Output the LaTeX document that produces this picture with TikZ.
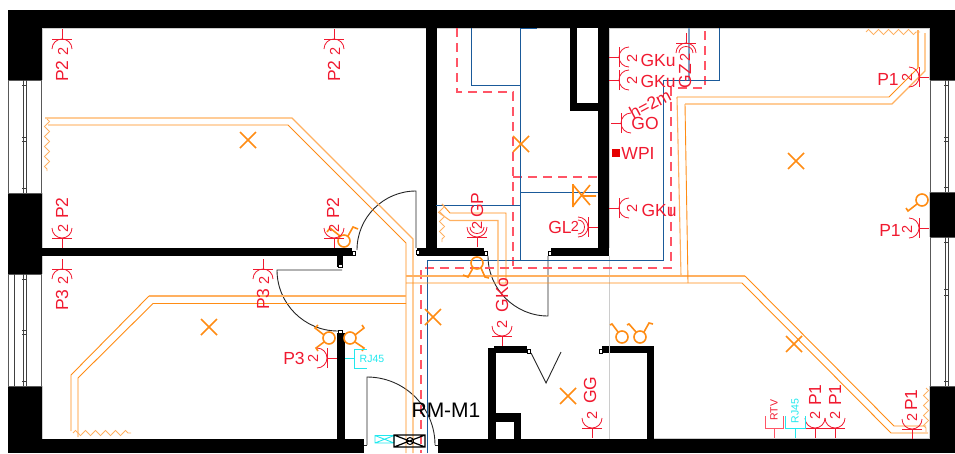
\documentclass[tikz,border=0pt]{standalone}
\usepackage{fontspec}
\setmainfont{Liberation Sans}
\usetikzlibrary{decorations.pathmorphing}
\definecolor{rd}{HTML}{F01A30}
\definecolor{rdl}{HTML}{FF5566}
\definecolor{og}{HTML}{FF8C14}
\definecolor{ogl}{HTML}{FFB060}
\definecolor{bl}{HTML}{1A5A9A}
\definecolor{bll}{HTML}{7FA3C7}
\definecolor{cy}{HTML}{22E8EE}
\tikzset{
 wall/.style={fill=black,draw=none},
 edge/.style={draw=black!20,line width=0.8pt},
 glass/.style={draw=black!65,line width=0.7pt,fill=white},
 pane/.style={draw=black!75,line width=1pt},
 door/.style={draw=black!85,line width=0.9pt},
 doorend/.style={draw=black,fill=white,line width=0.5pt},
 cable/.style={draw=og,line width=0.9pt},
 cablel/.style={draw=ogl,line width=1.1pt},
 zz/.style={draw=ogl,line width=0.8pt,decorate,decoration={zigzag,amplitude=2.6,segment length=10}},
 wire/.style={draw=bl,line width=0.9pt},
 pipe/.style={draw=rdl,line width=1.1pt,dash pattern=on 9pt off 6pt},
 sym/.style={draw=rd,line width=0.8pt},
 lamp/.style={draw=og,line width=1.6pt},
 lab/.style={text=rd,font=\fontsize{17.5}{17.5}\selectfont,inner sep=0pt},
 num/.style={text=rd,font=\fontsize{14.5}{14.5}\selectfont,inner sep=0pt},
 tiny/.style={font=\fontsize{10.5}{10.5}\selectfont,inner sep=0pt},
}
\newcommand{\sockA}[3]{\begin{scope}[shift={(#1,#2)},rotate=#3]
 \draw[sym] (0,0)--(0,10) (-10,10)--(10,10);
 \draw[sym] (-10,20) .. controls (-10,14.5) and (-5.5,10) .. (0,10) .. controls (5.5,10) and (10,14.5) .. (10,20);
 \end{scope}}
\newcommand{\sockB}[3]{\sockA{#1}{#2}{#3}\begin{scope}[shift={(#1,#2)},rotate=#3]
 \draw[sym] (-7,20) .. controls (-7,16.1) and (-3.9,13.5) .. (0,13.5) .. controls (3.9,13.5) and (7,16.1) .. (7,20);
 \end{scope}}
\newcommand{\lampX}[2]{\draw[lamp] (#1-8,#2-8)--(#1+8,#2+8) (#1-8,#2+8)--(#1+8,#2-8);}
\newcommand{\swc}[2]{\draw[lamp] (#1,#2) circle[radius=6];}
\newcommand{\hnd}[6]{\draw[lamp] (#1,#2)--(#3,#4)--(#5,#6);}
\begin{document}
\begin{tikzpicture}[x=1pt,y=-1pt]
\useasboundingbox (0,0) rectangle (955,453);
% outer walls
\fill[wall] (8,10) rectangle (955,28);
\fill[wall] (8,10) rectangle (42,80);
\fill[wall] (8,193) rectangle (42,274);
\fill[wall] (8,386) rectangle (42,453);
\fill[wall] (8,439) rectangle (364,453);
\fill[wall] (438,439) rectangle (955,453);
\fill[wall] (930,10) rectangle (955,80);
\fill[wall] (930,192) rectangle (955,237);
\fill[wall] (930,386) rectangle (955,453);
% inner walls
\fill[wall] (42,248) rectangle (352,256);
\fill[wall] (337,256) rectangle (343,267);
\fill[wall] (426,28) rectangle (437,256);
\fill[wall] (417,248) rectangle (484,256);
\fill[wall] (598,28) rectangle (609,256);
\fill[wall] (551,248) rectangle (609,256);
\fill[wall] (570,28) rectangle (577,111);
\fill[wall] (570,103) rectangle (600,111);
\fill[wall] (337,333) rectangle (345,439);
\fill[wall] (488,348) rectangle (496,439);
\fill[wall] (494,346) rectangle (527,353);
\fill[wall] (602,346) rectangle (654,353);
\fill[wall] (647,346) rectangle (654,439);
\fill[wall] (496,413) rectangle (521,422);
\fill[wall] (514,413) rectangle (521,439);
% grey wall edges
\draw[edge] (42,28)--(42,80) (42,193)--(42,248) (42,256)--(42,274) (42,386)--(42,439);
\draw[edge] (42,28.5)--(426,28.5) (437,28.5)--(570,28.5) (609,28.5)--(929.5,28.5)--(929.5,80);
\draw[edge] (929.5,192)--(929.5,237) (929.5,386)--(929.5,439) (654,438.5)--(929,438.5);
\draw[edge] (609.5,256)--(609.5,439);
\draw[edge] (609.5,28)--(609.5,248);
% windows
\draw[glass] (8,80) rectangle (41,193);
\draw[pane] (23,80)--(23,193) (26,80)--(26,193);
\draw[pane] (22,85)--(27,85) (22,137)--(27,137) (22,141)--(27,141) (22,188)--(27,188);
\draw[glass] (8,274) rectangle (41,386);
\draw[pane] (14,274)--(14,386) (23,274)--(23,386) (26,274)--(26,386);
\draw[pane] (22,330)--(27,330) (22,334)--(27,334) (22,381)--(27,381) (22,279)--(27,279);
\draw[glass] (930,80) rectangle (956,192);
\draw[pane] (945,80)--(945,192) (948,80)--(948,192);
\draw[pane] (944,85)--(949,85) (944,137)--(949,137) (944,141)--(949,141) (944,187)--(949,187);
\draw[glass] (930,237) rectangle (956,386);
\draw[pane] (945,237)--(945,386) (948,237)--(948,386);
\draw[pane] (944,242)--(949,242) (944,289)--(949,289) (944,295)--(949,295) (944,381)--(949,381);
% door arcs
\draw[door] (416,248)--(416,191) .. controls (383.4,191) and (357,217.4) .. (357,250);
\draw[door] (342,270)--(277,270) .. controls (277,303.7) and (304.3,331) .. (338,331);
\draw[door] (367,445)--(367,377) .. controls (404.6,377) and (435,407.4) .. (435,445);
\draw[door] (488,256) .. controls (488,289) and (515,316) .. (548,316)--(548,256);
\draw[door] (531,353)--(546,383)--(561,352);
\draw[door] (364,445)--(367,445) (435,445)--(438,445);
\draw[doorend] (352,251) rectangle (355,255);
\draw[doorend] (338,264) rectangle (342,267);
\draw[doorend] (416,250) rectangle (419,254);
\draw[doorend] (484,251) rectangle (487,255);
\draw[doorend] (548,251) rectangle (551,255);
\draw[doorend] (527,349) rectangle (530,353);
\draw[doorend] (599,349) rectangle (602,353);
\draw[doorend] (338,330) rectangle (342,333);
% red dashed pipes
\draw[pipe] (457,28)--(457,92)--(513,92)--(513,268)--(421,268)--(421,453);
\draw[pipe] (513,177)--(598,177);
\draw[pipe] (513,268)--(671,268)--(671,88)--(705,88)--(705,28);
% blue wires
\draw[wire] (471,28)--(471,85)--(520,85);
\draw[wire] (537,28)--(520,28)--(520,260);
\draw[draw=bll,line width=1pt] (436,205)--(520,205);
\draw[wire] (436,205.5)--(520,205.5);
\draw[wire] (520,192)--(598,192);
\draw[wire] (427,453)--(427,260)--(663,260)--(663,80)--(719,80)--(719,28);
\draw[draw=bll,line width=1.6pt] (689,28)--(689,80);
% orange cables
\draw[cablel] (45,118)--(292,118)--(413,239)--(413,453);
\draw[cable] (48,125)--(288,125)--(406,243)--(406,453);
\draw[cable] (71,431)--(71,375)--(149,296);
\draw[cablel] (149,296)--(406,296);
\draw[cable] (78,437)--(78,378)--(153,303.5)--(406,303.5);
\draw[cablel] (406,276)--(745,276);
\draw[cable] (745,276)--(894,426)--(926,426);
\draw[cable] (406,283)--(742,283)--(891,433)--(928,433);
\draw[cablel] (677,97)--(681,276);
\draw[cable] (677,97)--(889,97)--(918,68);
\draw[cablel] (918,68)--(918,30);
\draw[cable] (685,104)--(688,283);
\draw[cablel] (685,104)--(892,104)--(925,71)--(925,33);
\draw[cable] (442,204)--(450,213)--(506,213)--(506,283);
\draw[cablel] (438,212)--(450,220.5)--(498,220.5)--(498,283);
% zigzags
\draw[zz] (47,119)--(47,171);
\draw[zz] (73,433)--(131,433);
\draw[zz] (866,32)--(920,32);
\draw[zz] (926,388)--(926,432);
\draw[zz] (442,204)--(442,242);
% lamps
\lampX{248}{140}
\lampX{796}{161}
\lampX{521}{144}
\lampX{209}{327}
\lampX{433}{317}
\lampX{568}{396}
\lampX{794}{344}
\draw[lamp] (573,184)--(573,207) (573,185)--(590,205) (573,206)--(590,185) (582,196)--(596,196);
% switches
\swc{344}{241}
\hnd{340}{236}{330}{228}{327}{232}
\hnd{348}{236}{353}{227}{358}{229}
\swc{477}{263}
\hnd{473}{268}{468}{277}{463}{275}
\hnd{481}{268}{485}{277}{489}{278}
\swc{329}{338}
\hnd{324}{335}{315}{328}{318}{325}
\hnd{324}{342}{316}{348}{318}{351}
\swc{350}{338}
\hnd{355}{335}{364}{328}{362}{325}
\hnd{355}{342}{364}{348}{362}{351}
\swc{622}{337}
\hnd{618}{332}{612}{324}{610}{325}
\swc{640}{337}
\hnd{636}{332}{629}{324}{627}{325}
\hnd{644}{332}{649}{323}{653}{324}
\swc{922}{200}
\hnd{917}{204}{908}{211}{906}{208}
% sockets
\sockA{62}{29}{0}
\sockA{334}{29}{0}
\sockA{62}{248}{180}
\sockA{334}{248}{180}
\sockA{62}{259}{0}
\sockA{263}{259}{0}
\sockA{337}{358}{-90}
\sockA{929}{77}{-90}
\sockA{929}{228}{-90}
\sockA{609}{57}{90}
\sockA{609}{80}{90}
\sockA{611}{123}{90}
\sockA{609}{208}{90}
\sockB{598}{227}{-90}
\sockB{477}{247}{180}
\sockB{686}{33}{0}
\sockA{502}{346}{180}
\sockA{592}{438}{180}
\sockA{815}{438}{180}
\sockA{835}{438}{180}
\sockA{912}{439}{180}
% labels
\node[lab,rotate=90] (p2a) at (62,71) {P2};
\node[num,rotate=90] (n2a) at (63,51) {2};
\node[lab,rotate=90] (p2b) at (334,71) {P2};
\node[num,rotate=90] (n2b) at (335,51) {2};
\node[lab,rotate=90] (p2c) at (62,208) {P2};
\node[num,rotate=90] (n2c) at (63,228) {2};
\node[lab,rotate=90] (p2d) at (333,208) {P2};
\node[num,rotate=90] (n2d) at (334,228) {2};
\node[lab,rotate=90] (p3a) at (62,300) {P3};
\node[num,rotate=90] (n3a) at (63,280) {2};
\node[lab,rotate=90] (p3b) at (263,299) {P3};
\node[num,rotate=90] (n3b) at (264,280) {2};
\node[lab] (p3c) at (294,358) {P3};
\node[num,rotate=90] (n3c) at (313,358) {2};
\node[lab] (p1a) at (888,79) {P1};
\node[num,rotate=90] (n1a) at (907,77) {2};
\node[lab] (p1b) at (890,230) {P1};
\node[num,rotate=90] (n1b) at (907,229) {2};
\node[num,rotate=90] (gk1n) at (632,58) {2};
\node[lab] (gk1) at (658,60) {GKu};
\node[num,rotate=90] (gk2n) at (632,80) {2};
\node[lab] (gk2) at (658,81) {GKu};
\node[lab] (go) at (645,123) {GO};
\node[lab,rotate=28] (hh) at (650,104) {h=2m};
\fill[red!90!black] (612,149) rectangle (620,157);
\node[lab] (wpi) at (638,153) {WPI};
\node[num,rotate=90] (gk3n) at (632,208) {2};
\node[lab] (gk3) at (659,210) {GKu};
\node[lab] (gl) at (560,227) {GL};
\node[num] (gln) at (575,226) {2};
\node[num,rotate=90] (gpn) at (477,225) {2};
\node[lab,rotate=90] (gp) at (477,205) {GP};
\node[num,rotate=90] (gzn) at (685,57) {2};
\node[lab,rotate=90] (gz) at (685,76) {GZ};
\node[num,rotate=90] (gkon) at (502,324) {2};
\node[lab,rotate=90] (gko) at (502,295) {GKo};
\node[num,rotate=90] (ggn) at (592,415) {2};
\node[lab,rotate=90] (gg) at (590,390) {GG};
\node[num,rotate=90] (p1cn) at (815,415) {2};
\node[lab,rotate=90] (p1c) at (815,395) {P1};
\node[num,rotate=90] (p1dn) at (835,415) {2};
\node[lab,rotate=90] (p1d) at (835,395) {P1};
\node[num,rotate=90] (p1en) at (912,417) {2};
\node[lab,rotate=90] (p1e) at (911,400) {P1};
% TV / data outlets
\draw[draw=rdl,line width=1pt] (774,438)--(774,428) (765,416)--(765,428)--(783,428)--(783,416);
\node[tiny,text=rd,rotate=90] (rtv) at (774,410) {RTV};
\draw[draw=cy,line width=1pt] (795,438)--(795,428) (785,416)--(785,428)--(805,428)--(805,416);
\node[tiny,text=cy,rotate=90] (rja) at (795,411) {RJ45};
\draw[draw=cy,line width=1pt] (345,358)--(354,358) (367,349)--(354,349)--(354,368)--(367,368);
\node[tiny,text=cy] (rjb) at (372,359) {RJ45};
% distribution box
\draw[draw=cy,line width=0.9pt] (375,435.5) rectangle (394,443) (375,435.5)--(394,443) (375,443)--(394,435.5);
\draw[draw=black,line width=1.2pt] (394,435) rectangle (425,447) (394,435)--(425,447) (394,447)--(425,435);
\draw[draw=black,line width=1pt] (410,441) circle[radius=3.5];
\node[font=\fontsize{21}{21}\selectfont,inner sep=0pt] (rm) at (446,410) {RM-M1};
\end{tikzpicture}
\end{document}
